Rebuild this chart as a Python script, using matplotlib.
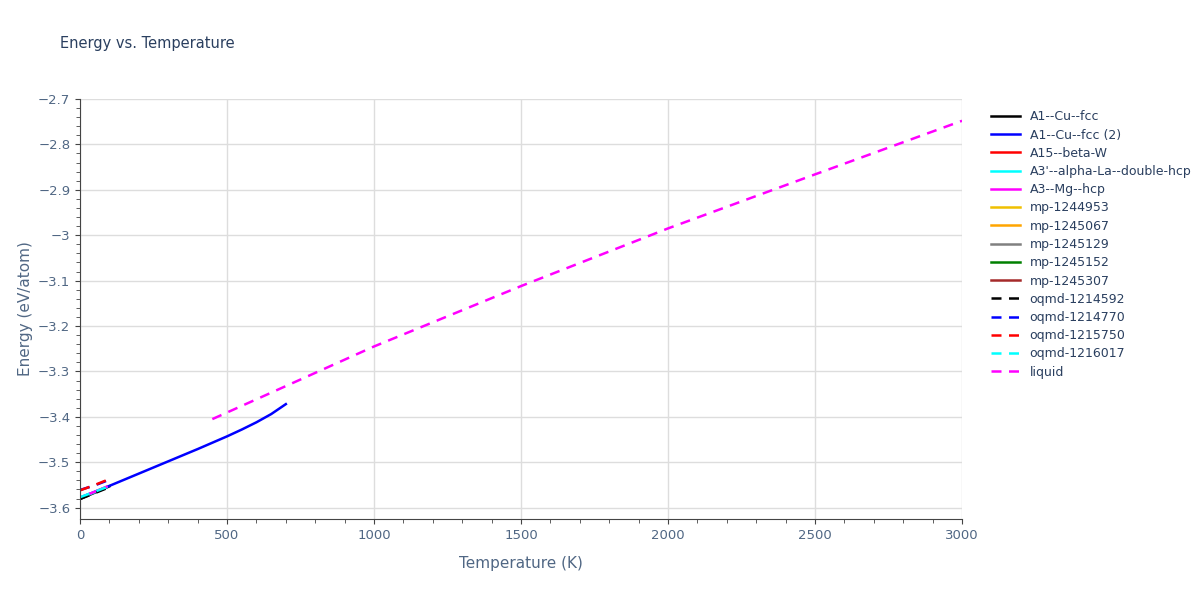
import matplotlib.pyplot as plt

# series values
fcc2_T = [0, 100, 200, 300, 400, 500, 550, 600, 650, 700]
fcc2_E = [-3.578, -3.552, -3.525, -3.498, -3.471, -3.443, -3.428, -3.412, -3.394, -3.372]
fcc_T = [0, 50, 100]
fcc_E = [-3.581, -3.567, -3.553]
alpha_la_T = [0, 50, 90]
alpha_la_E = [-3.579, -3.566, -3.555]
hcp_T = [0, 50, 90]
hcp_E = [-3.578, -3.565, -3.554]
oq1214592_T = [0, 50, 100]
oq1214592_E = [-3.581, -3.568, -3.555]
oq1214770_T = [0, 50, 90]
oq1214770_E = [-3.561, -3.551, -3.541]
oq1215750_T = [0, 50, 100]
oq1215750_E = [-3.562, -3.550, -3.537]
oq1216017_T = [0, 50, 90]
oq1216017_E = [-3.577, -3.565, -3.555]
liquid_T = [450, 1000, 1500, 2000, 2500, 3000]
liquid_E = [-3.405, -3.245, -3.112, -2.985, -2.866, -2.748]

fig = plt.figure(figsize=(12, 6), dpi=100)
ax = fig.add_axes([0.0667, 0.135, 0.735, 0.70])

solid = [
    ('A1--Cu--fcc', 'black', fcc_T, fcc_E),
    ('A1--Cu--fcc (2)', 'blue', fcc2_T, fcc2_E),
    ('A15--beta-W', 'red', [], []),
    ("A3'--alpha-La--double-hcp", 'cyan', alpha_la_T, alpha_la_E),
    ('A3--Mg--hcp', 'magenta', hcp_T, hcp_E),
    ('mp-1244953', '#f0c000', [], []),
    ('mp-1245067', 'orange', [], []),
    ('mp-1245129', 'gray', [], []),
    ('mp-1245152', 'green', [], []),
    ('mp-1245307', 'brown', [], []),
]
dashed = [
    ('oqmd-1214592', 'black', oq1214592_T, oq1214592_E),
    ('oqmd-1214770', 'blue', oq1214770_T, oq1214770_E),
    ('oqmd-1215750', 'red', oq1215750_T, oq1215750_E),
    ('oqmd-1216017', 'cyan', oq1216017_T, oq1216017_E),
    ('liquid', 'magenta', liquid_T, liquid_E),
]
for name, c, t, e in solid:
    ax.plot(t, e, color=c, lw=1.8, label=name)
for name, c, t, e in dashed:
    ax.plot(t, e, color=c, lw=1.8, ls=(0, (4, 3)), label=name)

ax.set_xlim(0, 3000)
ax.set_ylim(-3.625, -2.7)
ax.set_xticks(range(0, 3001, 500))
ax.set_yticks([-3.6, -3.5, -3.4, -3.3, -3.2, -3.1, -3.0, -2.9, -2.8, -2.7])
ax.set_yticklabels(['−3.6', '−3.5', '−3.4', '−3.3', '−3.2', '−3.1', '−3', '−2.9', '−2.8', '−2.7'])
ax.set_yticks([-3.6 + 0.02 * i for i in range(46)], minor=True)
ax.set_xticks(range(0, 3001, 100), minor=True)
ax.grid(True, which='major', color='#dddddd', lw=1)
ax.set_axisbelow(True)
for s in ['top', 'right']:
    ax.spines[s].set_visible(False)
ax.spines['bottom'].set_color('#444444')
ax.spines['left'].set_color('#444444')
ax.tick_params(colors='#444444', labelcolor='#506784', labelsize=9.5)
ax.tick_params(which='minor', length=3, colors='#444444')
ax.set_xlabel('Temperature (K)', color='#506784', fontsize=11, labelpad=10)
ax.set_ylabel('Energy (eV/atom)', color='#506784', fontsize=11)
fig.text(0.05, 0.92, 'Energy vs. Temperature', color='#2a3f5f', fontsize=10.5)
ax.legend(loc='upper left', bbox_to_anchor=(1.02, 1.0), frameon=False,
          fontsize=9, labelcolor='#2a3f5f', handlelength=2.3,
          labelspacing=0.42)
fig.savefig('out.png')
